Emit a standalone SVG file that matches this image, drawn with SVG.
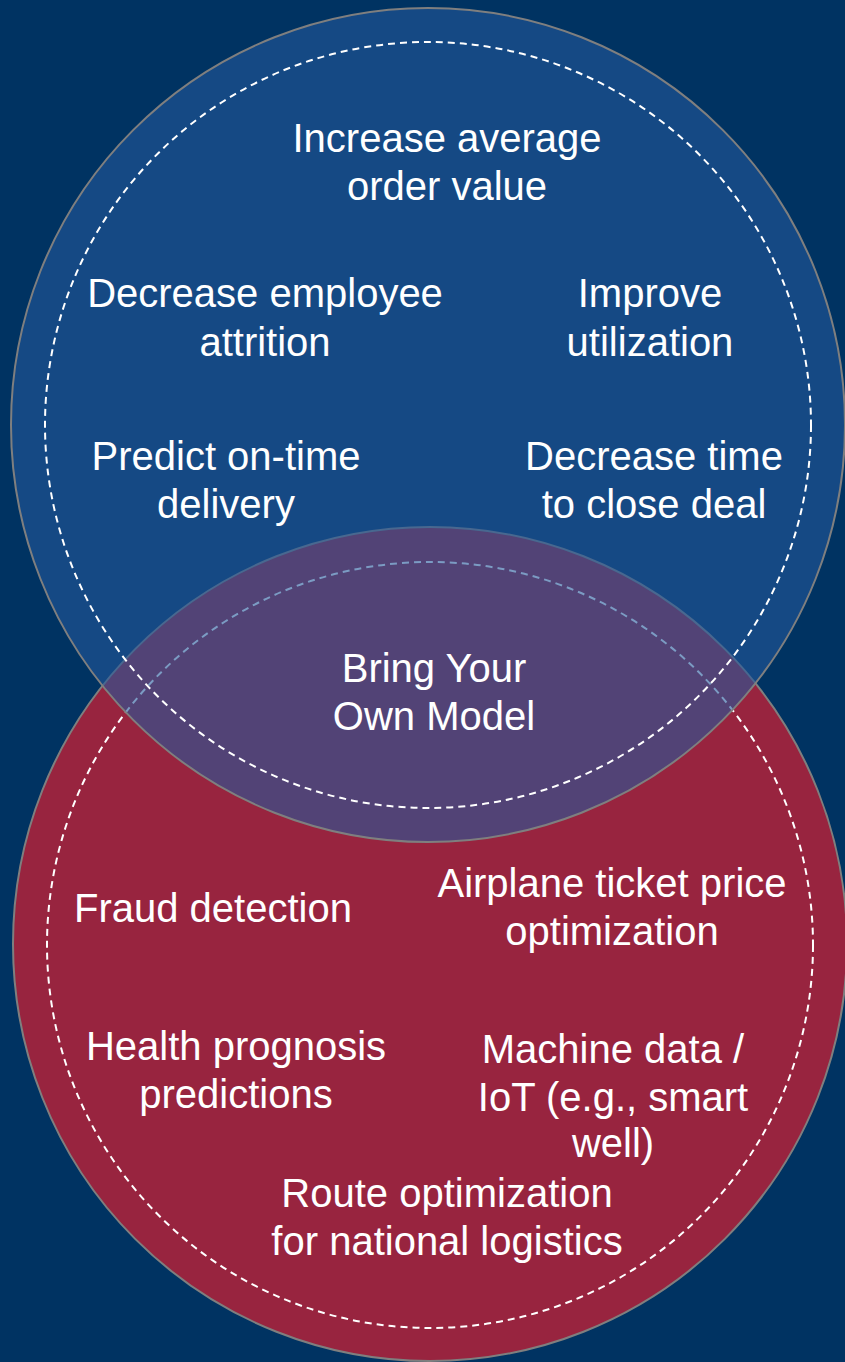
<svg xmlns="http://www.w3.org/2000/svg" width="845" height="1362" viewBox="0 0 845 1362">
<style>
.t{font-family:"Liberation Sans",Arial,sans-serif;font-size:40px;fill:#ffffff;text-anchor:middle}
.outline{stroke:#7f7f7f;stroke-width:2}
.dash{fill:none;stroke:#ffffff;stroke-width:2;stroke-dasharray:7 5}
</style>
<rect width="845" height="1362" fill="#003362"/>
<g id="red-circle">
<circle cx="430" cy="944" r="417" fill="#98243f" class="outline"/>
<circle cx="430" cy="945" r="383" class="dash"/>
</g>
<g id="blue-circle">
<circle cx="428" cy="425" r="417" fill="#23599b" fill-opacity="0.6" class="outline"/>
<circle cx="428" cy="425" r="383" class="dash"/>
</g>
<g id="n-aov"><text class="t" x="447" y="152">Increase average</text><text class="t" x="447" y="200">order value</text></g>
<g id="n-attrition"><text class="t" x="265" y="307">Decrease employee</text><text class="t" x="265" y="356">attrition</text></g>
<g id="n-utilization"><text class="t" x="650" y="307">Improve</text><text class="t" x="650" y="356">utilization</text></g>
<g id="n-delivery"><text class="t" x="226" y="470">Predict on-time</text><text class="t" x="226" y="518">delivery</text></g>
<g id="n-close"><text class="t" x="654" y="470">Decrease time</text><text class="t" x="654" y="518">to close deal</text></g>
<g id="n-byom"><text class="t" x="434" y="682">Bring Your</text><text class="t" x="434" y="730">Own Model</text></g>
<g id="n-fraud"><text class="t" x="213" y="922">Fraud detection</text></g>
<g id="n-airplane"><text class="t" x="612" y="897">Airplane ticket price</text><text class="t" x="612" y="945">optimization</text></g>
<g id="n-health"><text class="t" x="236" y="1060">Health prognosis</text><text class="t" x="236" y="1108">predictions</text></g>
<g id="n-iot"><text class="t" x="613" y="1063">Machine data /</text><text class="t" x="613" y="1111">IoT (e.g., smart</text><text class="t" x="613" y="1157">well)</text></g>
<g id="n-route"><text class="t" x="447" y="1207">Route optimization</text><text class="t" x="447" y="1255">for national logistics</text></g>
<g id="connectors"></g>
</svg>
